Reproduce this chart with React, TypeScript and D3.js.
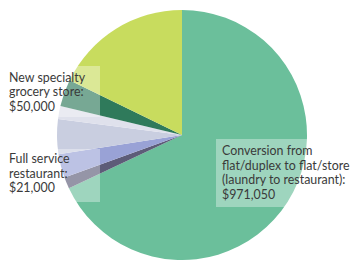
import * as d3 from "d3";

const categories = [
  "Conversion from flat/duplex to flat/store (laundry to restaurant)",
  "Full service restaurant",
  "Other 1",
  "Other 2",
  "Other 3",
  "New specialty grocery store",
  "Other 4",
];
const values = [971050, 21000, 44000, 64000, 24000, 50000, 254000];
const colors = ["#6bbf9b", "#5d5c78", "#99a2d6", "#c9cee0", "#dfe1ec", "#2f7a5b", "#c8dc5e"];

const labelLines = [
  ["New specialty", "grocery store:", "$50,000"],
  ["Full service", "restaurant:", "$21,000"],
  ["Conversion from", "flat/duplex to flat/store", "(laundry to restaurant):", "$971,050"],
];

const W = 355;
const H = 260;
const cx = 182;
const cy = 135;
const r = 125;

// label boxes and text anchors
const boxes = [
  { x: 4, y: 66, w: 96, h: 51, tx: 9, ty: 81.5 },
  { x: 4, y: 149, w: 96, h: 53, tx: 9, ty: 163 },
  { x: 216, y: 139, w: 134, h: 68, tx: 222, ty: 155 },
];

export default function App() {
  const pie = d3
    .pie<number>()
    .sort(null)
    .startAngle(0)
    .endAngle(2 * Math.PI)
    .value((d) => d);
  const arc = d3.arc<d3.PieArcDatum<number>>().innerRadius(0).outerRadius(r);
  const arcs = pie(values);

  return (
    <svg
      width={W}
      height={H}
      style={{ position: "absolute", left: 0, top: 0, background: "#fff" }}
    >
      <g transform={`translate(${cx},${cy})`}>
        {arcs.map((a, i) => (
          <path key={categories[i]} d={arc(a) || ""} fill={colors[i]} />
        ))}
      </g>
      {boxes.map((b, i) => (
        <g key={i}>
          <rect x={b.x} y={b.y} width={b.w} height={b.h} fill="#fff" opacity={0.35} />
          <text
            x={b.tx}
            y={b.ty}
            fontFamily="Lato, sans-serif"
            fontSize={12.4}
            fill="#3a3a3a"
          >
            {labelLines[i].map((line, j) => (
              <tspan key={j} x={b.tx} dy={j === 0 ? 0 : 14.6}>
                {line}
              </tspan>
            ))}
          </text>
        </g>
      ))}
    </svg>
  );
}
